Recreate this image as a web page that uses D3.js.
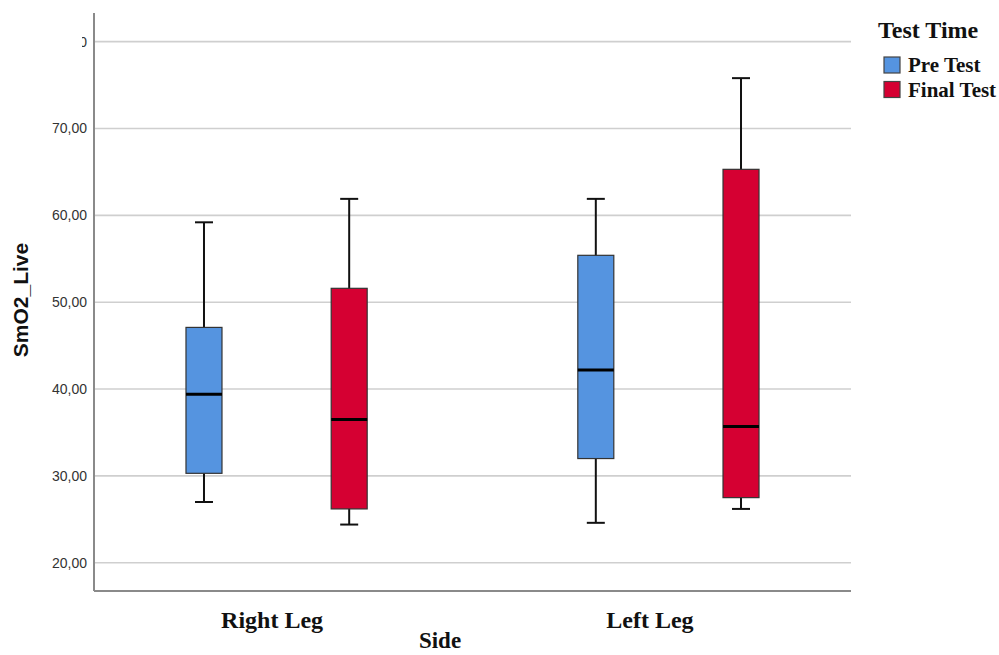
<!DOCTYPE html>
<html>
<head>
<meta charset="utf-8">
<script src="https://cdn.jsdelivr.net/npm/d3@7"></script>
<style>
  body { margin: 0; background: #fff; }
  svg { display: block; }
</style>
</head>
<body>
<svg class="chart"></svg>
<script>
    var width = 999;
    var height = 655;

    // data
    var sides = ["Right Leg", "Left Leg"];
    var times = ["Pre Test", "Final Test"];
    var colors = ["#5594e0", "#d50032"];
    var yTicks = [20, 30, 40, 50, 60, 70, 80];

    // [min, q1, median, q3, max] per side, per test time
    var preTest   = [[27.0, 30.3, 39.4, 47.1, 59.2], [24.6, 32.0, 42.2, 55.4, 61.9]];
    var finalTest = [[24.4, 26.2, 36.5, 51.6, 61.9], [26.2, 27.5, 35.7, 65.3, 75.8]];

    var plotLeft = 94, plotRight = 851, plotTop = 13, plotBottom = 591;

    var svg = d3.select(".chart")
        .attr("width", width)
        .attr("height", height)
        .style("font-family", "Arial, 'Liberation Sans', sans-serif");

    var y = d3.scaleLinear()
        .domain([16.75, 83.3])
        .range([plotBottom, plotTop]);

    var x = d3.scalePoint()
        .domain(sides)
        .range([plotLeft, plotRight])
        .padding(0.466);

    var xSub = d3.scalePoint()
        .domain(times)
        .range([-72.6, 72.6]);

    var boxW = 36, capW = 18;

    // gridlines
    svg.append("g")
        .selectAll("line")
        .data(yTicks)
        .enter().append("line")
        .attr("x1", plotLeft)
        .attr("x2", plotRight)
        .attr("y1", function(d) { return y(d); })
        .attr("y2", function(d) { return y(d); })
        .attr("stroke", "#cfcfcf")
        .attr("stroke-width", 1.6);

    // y axis
    var yAxis = svg.append("g")
        .attr("transform", "translate(" + plotLeft + ",0)")
        .call(d3.axisLeft(y).tickValues(yTicks).tickSize(0).tickPadding(7)
            .tickFormat(function(d) { return d3.format(".2f")(d).replace(".", ","); }));
    yAxis.select(".domain").remove();
    yAxis.selectAll("text")
        .style("font-size", "14px")
        .style("font-family", "Arial, 'Liberation Sans', sans-serif")
        .attr("fill", "#333");
    // the top label is cut off in the original, only its last glyph shows
    yAxis.append("clipPath").attr("id", "labclip")
        .append("rect").attr("x", -12).attr("y", -15).attr("width", 12).attr("height", 30);
    yAxis.selectAll(".tick").filter(function(d) { return d === 80; })
        .select("text")
        .attr("clip-path", "url(#labclip)");

    svg.append("line")
        .attr("x1", plotLeft).attr("x2", plotLeft)
        .attr("y1", plotTop).attr("y2", plotBottom)
        .attr("stroke", "#8a8a8a").attr("stroke-width", 2);

    // x axis
    var xAxis = svg.append("g")
        .attr("transform", "translate(0," + plotBottom + ")")
        .call(d3.axisBottom(x).tickSize(0).tickPadding(20));
    xAxis.select(".domain").remove();
    svg.append("line")
        .attr("x1", plotLeft).attr("x2", plotRight)
        .attr("y1", plotBottom).attr("y2", plotBottom)
        .attr("stroke", "#8a8a8a").attr("stroke-width", 2);
    xAxis.selectAll("text")
        .style("font-family", "'Liberation Serif', 'Times New Roman', serif")
        .style("font-weight", "bold")
        .style("font-size", "24px")
        .attr("fill", "#111")
        .attr("dx", function(d) { return d === "Left Leg" ? -19 : -5; });

    // boxes
    var series = [preTest, finalTest];
    series.forEach(function(vals, s) {
        var g = svg.append("g");
        var grp = g.selectAll("g")
            .data(vals)
            .enter().append("g")
            .attr("transform", function(d, i) { return "translate(" + (x(sides[i]) + xSub(times[s])) + ",0)"; });

        grp.append("line")
            .attr("x1", 0).attr("x2", 0)
            .attr("y1", function(d) { return y(d[0]); })
            .attr("y2", function(d) { return y(d[4]); })
            .attr("stroke", "#111").attr("stroke-width", 2);
        grp.append("line")
            .attr("x1", -capW / 2).attr("x2", capW / 2)
            .attr("y1", function(d) { return y(d[0]); })
            .attr("y2", function(d) { return y(d[0]); })
            .attr("stroke", "#111").attr("stroke-width", 2);
        grp.append("line")
            .attr("x1", -capW / 2).attr("x2", capW / 2)
            .attr("y1", function(d) { return y(d[4]); })
            .attr("y2", function(d) { return y(d[4]); })
            .attr("stroke", "#111").attr("stroke-width", 2);
        grp.append("rect")
            .attr("x", -boxW / 2)
            .attr("width", boxW)
            .attr("y", function(d) { return y(d[3]); })
            .attr("height", function(d) { return y(d[1]) - y(d[3]); })
            .attr("fill", colors[s])
            .attr("stroke", "#333")
            .attr("stroke-width", 1.2);
        grp.append("line")
            .attr("x1", -boxW / 2).attr("x2", boxW / 2)
            .attr("y1", function(d) { return y(d[2]); })
            .attr("y2", function(d) { return y(d[2]); })
            .attr("stroke", "#000").attr("stroke-width", 3);
    });

    // axis titles
    svg.append("text")
        .attr("transform", "rotate(-90)")
        .attr("x", -300)
        .attr("y", 28)
        .style("text-anchor", "middle")
        .style("font-size", "21px")
        .style("font-weight", "bold")
        .attr("fill", "#111")
        .text("SmO2_Live");

    svg.append("text")
        .attr("x", 440)
        .attr("y", 648)
        .style("text-anchor", "middle")
        .style("font-family", "'Liberation Serif', 'Times New Roman', serif")
        .style("font-size", "23px")
        .style("font-weight", "bold")
        .attr("fill", "#111")
        .text("Side");

    // legend
    var legend = svg.append("g")
        .style("font-family", "'Liberation Serif', 'Times New Roman', serif")
        .style("font-weight", "bold");
    legend.append("text")
        .attr("x", 878).attr("y", 38)
        .style("font-size", "24px")
        .attr("fill", "#111")
        .text("Test Time");
    var items = legend.selectAll(".item")
        .data(times)
        .enter().append("g")
        .attr("transform", function(d, i) { return "translate(884," + (57 + i * 24.5) + ")"; });
    items.append("rect")
        .attr("width", 16).attr("height", 16)
        .attr("fill", function(d, i) { return colors[i]; })
        .attr("stroke", "#444").attr("stroke-width", 1.2);
    items.append("text")
        .attr("x", 24).attr("y", 15)
        .style("font-size", "21px")
        .attr("fill", "#111")
        .text(function(d) { return d; });
</script>
</body>
</html>
